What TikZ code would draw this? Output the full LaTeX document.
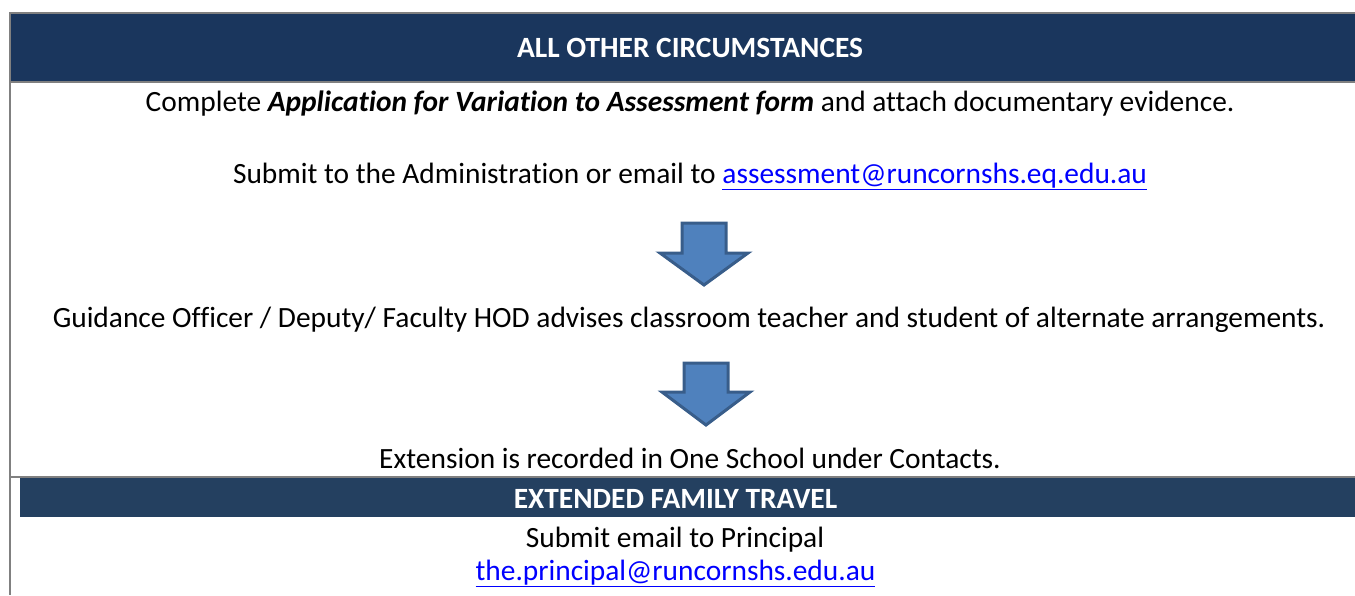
\documentclass[tikz,border=0pt]{standalone}
\usepackage{fontspec}
\setmainfont[Ligatures={NoCommon}]{Carlito}
\definecolor{bannerA}{RGB}{26,54,93}
\definecolor{bannerB}{RGB}{36,64,96}
\definecolor{rulegray}{RGB}{128,128,128}
\definecolor{arrowfill}{RGB}{79,129,189}
\definecolor{arrowline}{RGB}{56,93,138}
\definecolor{linkblue}{RGB}{0,0,255}
\newcommand{\lnk}[1]{\textcolor{linkblue}{\underline{#1}}}
\tikzset{
  txt/.style={anchor=base, inner sep=0pt, font=\fontsize{29.4}{35}\selectfont},
  ttl/.style={anchor=base, inner sep=0pt, text=white, font=\fontsize{29.4}{35}\selectfont\bfseries},
  rule/.style={draw=rulegray, line width=2pt},
  downarrow/.style={fill=arrowfill, draw=arrowline, line width=3pt, line join=miter},
}
\begin{document}
\begin{tikzpicture}[x=1pt, y=-1pt]
\useasboundingbox (0,0) rectangle (1355,595);
% banners
\fill[bannerA] (10,13) rectangle (1355,82);
\fill[bannerB] (20,478) rectangle (1355,517);
% rules
\draw[rule] (10,13) -- (1355,13);
\draw[rule] (10,82) -- (1355,82);
\draw[rule] (10,477) -- (1355,477);
\draw[rule] (10,12) -- (10,595);
% texts
\node[ttl] (t1) at (690,57) {ALL OTHER CIRCUMSTANCES};
\node[txt] (complete) at (690,111) {Complete \textbf{\textit{Application for Variation to Assessment form}} and attach documentary evidence.};
\node[txt] (submit) at (690,183) {Submit to the Administration or email to \lnk{assessment@runcornshs.eq.edu.au}};
\node[txt] (guid) at (689,327) {Guidance Officer / Deputy/ Faculty HOD advises classroom teacher and student of alternate arrangements.};
\node[txt] (ext) at (690,468) {Extension is recorded in One School under Contacts.};
\node[ttl] (t2) at (675.5,508) {EXTENDED FAMILY TRAVEL};
\node[txt] (semail) at (675,547) {Submit email to Principal};
\node[txt] (pmail) at (675.5,580) {\lnk{the.principal@runcornshs.edu.au}};
% block arrows
\draw[downarrow] (682,223) -- (726,223) -- (726,253) -- (748,253) -- (704,285) -- (660,253) -- (682,253) -- cycle;
\draw[downarrow] (684,363) -- (728,363) -- (728,392) -- (750,392) -- (706,425) -- (662,392) -- (684,392) -- cycle;
\end{tikzpicture}
\end{document}
